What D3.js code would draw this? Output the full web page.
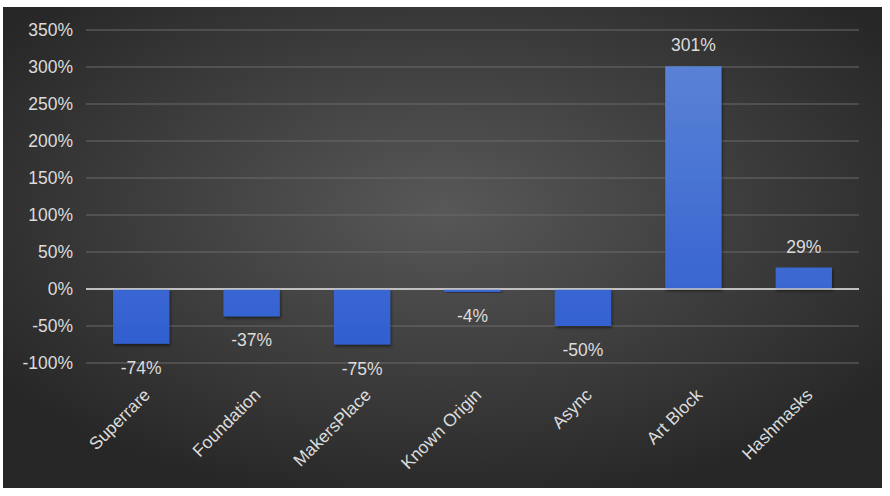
<!DOCTYPE html>
<html><head><meta charset="utf-8">
<script src="https://cdn.jsdelivr.net/npm/d3@7"></script>
<style>body{margin:0;background:#fff}svg{display:block}</style>
</head><body>
<script>
const categories = ["Superrare","Foundation","MakersPlace","Known Origin","Async","Art Block","Hashmasks"];
const values = [-74,-37,-75,-4,-50,301,29];
const yTicks = [-100,-50,0,50,100,150,200,250,300,350];

const W = 890, H = 496;
const svg = d3.select("body").append("svg").attr("width",W).attr("height",H);
const defs = svg.append("defs");
const bg = defs.append("radialGradient").attr("id","bg").attr("cx","50%").attr("cy","42%").attr("r","62%");
bg.append("stop").attr("offset","0%").attr("stop-color","#585858");
bg.append("stop").attr("offset","100%").attr("stop-color","#272727");

const x = d3.scaleBand().domain(categories).range([86,859]).paddingInner(0.49).paddingOuter(0.245);
const y = d3.scaleLinear().domain([-100,350]).range([363,30]);

const bar = defs.append("linearGradient").attr("id","bar").attr("gradientUnits","userSpaceOnUse")
  .attr("x1",0).attr("y1",y(350)).attr("x2",0).attr("y2",y(-100));
bar.append("stop").attr("offset","0%").attr("stop-color","#5f86d6");
bar.append("stop").attr("offset","100%").attr("stop-color","#2e5dd0");
const f = defs.append("filter").attr("id","sh").attr("x","-20%").attr("y","-20%").attr("width","140%").attr("height","140%");
f.append("feDropShadow").attr("dx",1).attr("dy",2).attr("stdDeviation",1.5).attr("flood-color","#000").attr("flood-opacity",0.5);

svg.append("rect").attr("x",3).attr("y",7).attr("width",879).attr("height",481).attr("fill","url(#bg)");

const font = "'Liberation Sans', Arial, sans-serif";
const fs = 17.5;

// gridlines
svg.append("g").selectAll("line").data(yTicks).join("line")
  .attr("x1",86).attr("x2",859)
  .attr("y1",d=>y(d)).attr("y2",d=>y(d))
  .attr("stroke",d=>d===0?"#c8c8c8":"#6a6a6a").attr("stroke-width",d=>d===0?1.5:1.2);

// y axis labels
const yAxis = d3.axisLeft(y).tickValues(yTicks).tickFormat(d=>d+"%").tickSize(0).tickPadding(0);
const ga = svg.append("g").attr("transform","translate(73,0)").call(yAxis);
ga.select(".domain").remove();
ga.selectAll("text").attr("fill","#dcdcdc").attr("font-size",fs).attr("font-family",font);

// bars
svg.append("g").selectAll("rect").data(values).join("rect")
  .attr("x",(d,i)=>x(categories[i]))
  .attr("width",x.bandwidth())
  .attr("y",d=>Math.min(y(d),y(0)))
  .attr("height",d=>Math.abs(y(d)-y(0)))
  .attr("fill","url(#bar)")
  .attr("filter","url(#sh)");

// redraw zero line on top
svg.append("line").attr("x1",86).attr("x2",859).attr("y1",y(0)).attr("y2",y(0))
  .attr("stroke","#c8c8c8").attr("stroke-width",1.5);

// value labels
svg.append("g").selectAll("text").data(values).join("text")
  .attr("x",(d,i)=>x(categories[i])+x.bandwidth()/2)
  .attr("y",d=>d>=0 ? y(d)-15 : y(d)+30)
  .attr("text-anchor","middle")
  .attr("fill","#dcdcdc").attr("font-size",fs).attr("font-family",font)
  .text(d=>d+"%");

// x labels
svg.append("g").selectAll("text").data(categories).join("text")
  .attr("transform",d=>`translate(${x(d)+x.bandwidth()/2+10},${396}) rotate(-45)`)
  .attr("text-anchor","end")
  .attr("fill","#dcdcdc").attr("font-size",fs).attr("font-family",font)
  .text(d=>d);
</script>
</body></html>
